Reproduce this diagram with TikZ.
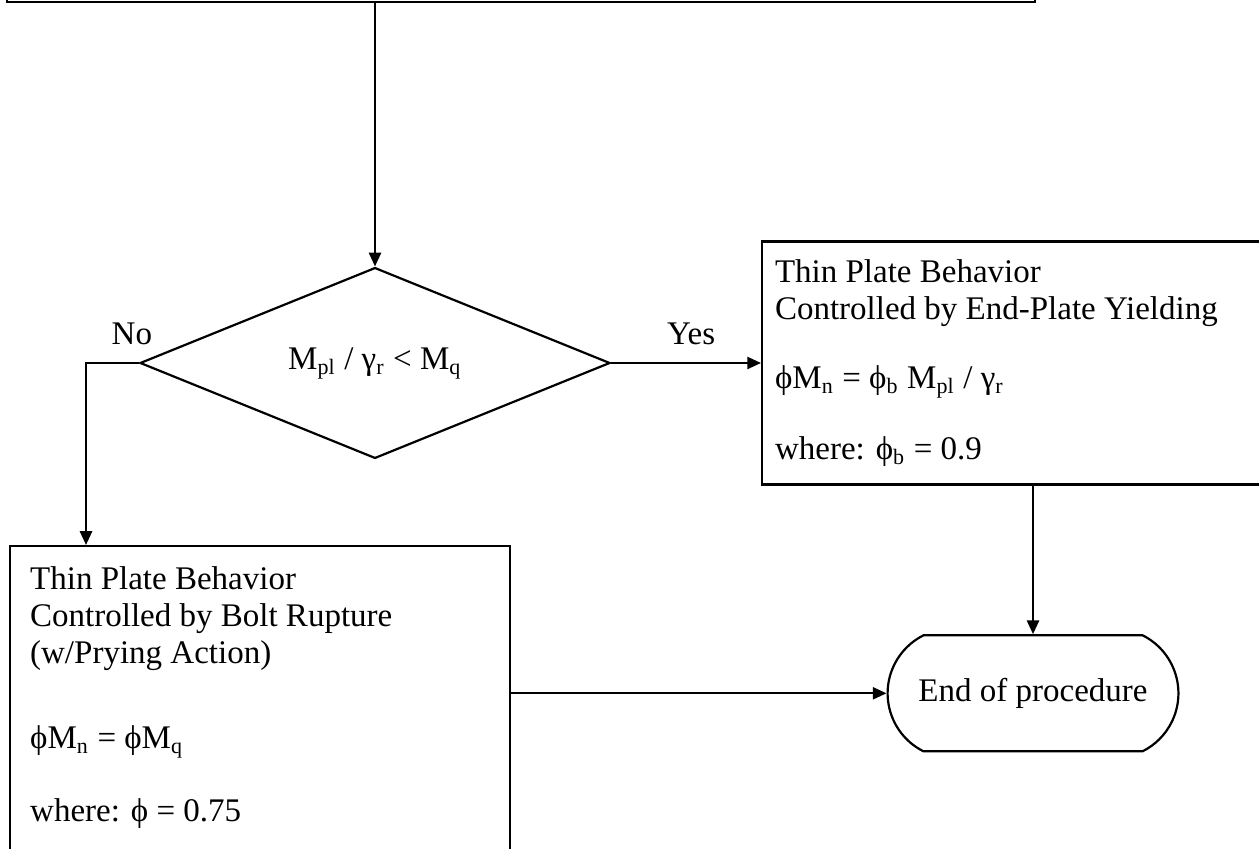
\documentclass[tikz,border=0pt]{standalone}
\usepackage{fontspec}
\setmainfont{Liberation Serif}
\usepackage{tikz}
\usetikzlibrary{positioning,arrows.meta,shapes.geometric,shapes.misc}

\begin{document}
\begin{tikzpicture}[x=0.3636pt, y=-0.3636pt, font=\fontsize{12pt}{13.45pt}\selectfont, line width=0.8pt,
  bloque/.style={draw, align=flush left, inner xsep=4.7pt},
  rombo/.style={draw, diamond, aspect=2.46, inner sep=0pt, minimum width=170.9pt, minimum height=69.4pt},
  fin/.style={draw, rounded rectangle, rounded rectangle arc length=127, minimum width=112.4pt, minimum height=42.2pt},
  flecha/.style={-{Triangle[length=5pt, width=4.4pt]}}]
\useasboundingbox (0,0) rectangle (1259,849);
\clip (0,0) rectangle (1259,849);
\node[draw, anchor=south west, minimum width=373.8pt, minimum height=43.6pt] (a) at (6,3) {};
\node[rombo] (b) at (375,363) {M\textsubscript{pl} / γ\textsubscript{r} < M\textsubscript{q}};
\node[bloque, right=54.5pt of b, text width=187.6pt, minimum height=88.4pt] (c) {Thin Plate Behavior\\Controlled by End-Plate Yielding\\[11.6pt]ϕM\textsubscript{n} = ϕ\textsubscript{b} M\textsubscript{pl} / γ\textsubscript{r}\\[12.4pt]where: ϕ\textsubscript{b} = 0.9};
\node[bloque, anchor=north west, inner xsep=7.3pt, inner ysep=7.5pt, text width=167.3pt] (d) at (9,545) {Thin Plate Behavior\\Controlled by Bolt Rupture\\(w/Prying Action)\\[17.5pt]ϕM\textsubscript{n} = ϕM\textsubscript{q}\\[13pt]where: ϕ = 0.75\rule[-30pt]{0pt}{0pt}};
\node[fin, below=54pt of c] (e) {End of procedure};
\node[anchor=base] (no) at ([shift={(-7,-18)}]b.west) {No};
\node[anchor=base] (si) at ([shift={(80,-18)}]b.east) {Yes};
\draw[flecha] (a.south -| b.north)--(b.north); \draw[flecha] (b.east)--(c.west); \draw[flecha] (b.west) -| ([xshift=28pt]d.north west);
\draw[flecha] (c.south)--(e.north); \draw[flecha] (d.east |- e.west)--(e.west);
\end{tikzpicture}
\end{document}
